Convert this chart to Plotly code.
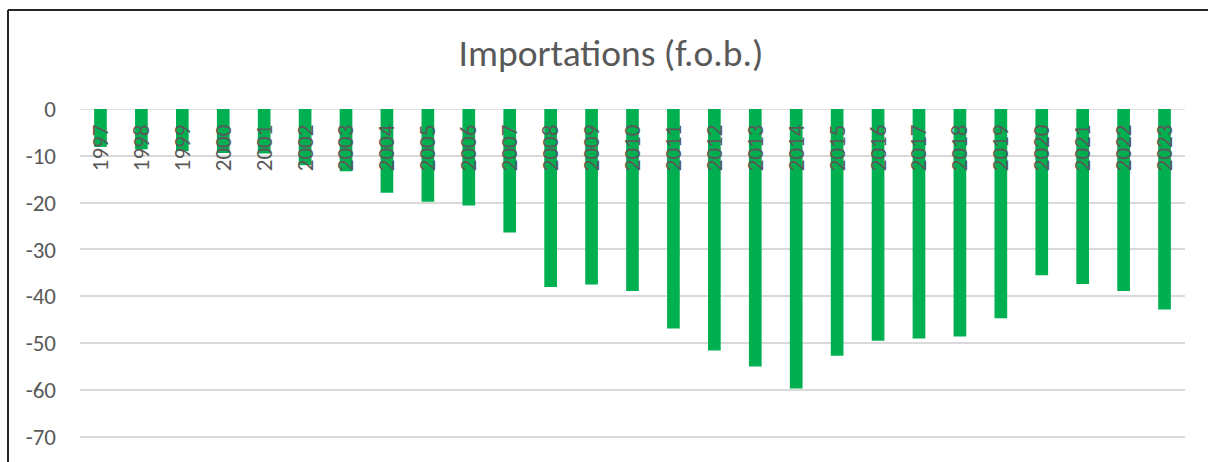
import plotly.graph_objects as go

# Imports (f.o.b.), shown as negative values
years = [str(y) for y in range(1997, 2024)]
imports = [-8.1, -8.6, -9.0, -9.4, -9.5, -12.0, -13.3, -17.9, -19.8, -20.6,
           -26.4, -38.0, -37.5, -38.9, -46.9, -51.6, -55.0, -59.7, -52.7,
           -49.5, -49.0, -48.6, -44.7, -35.5, -37.4, -38.9, -42.8]
y_ticks = [0, -10, -20, -30, -40, -50, -60, -70]

W, H = 1208, 462
ML, MR, MT, MB = 80, 23, 109, 0
PW, PH = W - ML - MR, H - MT - MB

def px_x(px):
    return (px - ML) / PW

def px_y(py):
    return (H - MB - py) / PH

font_family = "Carlito, Calibri, Lato, sans-serif"
grey = "#595959"
grid = "#d9d9d9"

fig = go.Figure(
    go.Bar(
        x=years,
        y=imports,
        marker=dict(color="#00B050", line=dict(width=0)),
        hoverinfo="x+y",
    )
)

fig.update_layout(
    width=W,
    height=H,
    margin=dict(l=ML, r=MR, t=MT, b=MB),
    paper_bgcolor="white",
    plot_bgcolor="white",
    bargap=0.69,
    showlegend=False,
    title=dict(
        text="Importations (f.o.b.)",
        x=611 / W,
        xanchor="center",
        xref="container",
        y=1 - 53 / H,
        yanchor="middle",
        yref="container",
        font=dict(family=font_family, size=37.5, color=grey),
    ),
    font=dict(family=font_family, color=grey),
)

# Category labels hang from the zero line, inside the plot area
fig.update_xaxes(
    type="category",
    anchor="free",
    position=1,
    side="bottom",
    tickangle=-90,
    ticklabelstandoff=10,
    tickfont=dict(size=23, color=grey),
    showgrid=False,
    showline=False,
    ticks="",
)

fig.update_yaxes(
    range=[-75.4, 0],
    tickvals=y_ticks,
    ticktext=[str(v) for v in y_ticks],
    tickfont=dict(size=23, color=grey),
    showgrid=True,
    gridcolor=grid,
    gridwidth=1.5,
    zeroline=False,
    showline=False,
    ticks="",
    ticklabelstandoff=23,
)

# Zero gridline along the top edge of the plot area
fig.add_shape(type="line", xref="paper", yref="y", layer="below",
              x0=0, x1=1, y0=0, y1=0, line=dict(color=grid, width=1.5))

# Outer frame: top and left edges
frame = dict(color="#262626", width=2)
fig.add_shape(type="line", xref="paper", yref="paper",
              x0=px_x(8), x1=px_x(W + 5), y0=px_y(10), y1=px_y(10), line=frame)
fig.add_shape(type="line", xref="paper", yref="paper",
              x0=px_x(8), x1=px_x(8), y0=px_y(10), y1=px_y(H + 5), line=frame)

fig.write_html("out.html")
